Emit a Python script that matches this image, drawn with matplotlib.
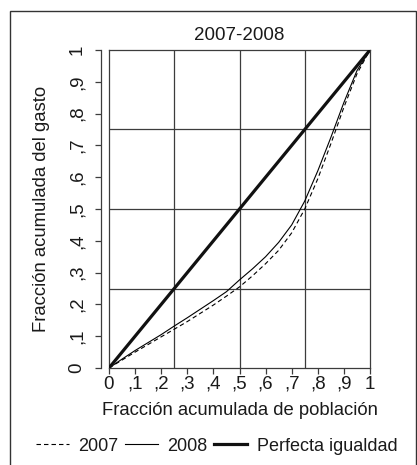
import matplotlib
matplotlib.use("Agg")
import matplotlib.pyplot as plt
from matplotlib.lines import Line2D
from matplotlib.patches import Rectangle

plt.rcParams['font.family'] = ['Liberation Sans', 'DejaVu Sans']
plt.rcParams['lines.scale_dashes'] = False

# Data
poblacion = [0, .05, .1, .15, .2, .25, .3, .35, .4, .45, .5, .55, .6, .65, .7,
             .75, .8, .85, .9, .95, 1]
gasto_2008 = [0, .028, .055, .08, .105, .132, .158, .185, .212, .24, .277, .312,
              .35, .395, .45, .525, .62, .725, .835, .935, 1]
gasto_2007 = [0, .025, .05, .074, .098, .122, .146, .172, .198, .226, .255, .29,
              .328, .37, .425, .50, .595, .705, .82, .925, 1]
igualdad_x = [0, 1]
igualdad_y = [0, 1]
ticks = [0, .1, .2, .3, .4, .5, .6, .7, .8, .9, 1]
tick_labels = ['0', ',1', ',2', ',3', ',4', ',5', ',6', ',7', ',8', ',9', '1']
grid_vals = [.25, .5, .75]

W, H = 417, 465
fig = plt.figure(figsize=(W / 100, H / 100), dpi=100)
fig.patch.set_facecolor('white')

# outer border
fig.add_artist(Rectangle((10 / W, -0.05), (416 - 10) / W, (H - 11) / H + 0.05,
                         transform=fig.transFigure, fill=False,
                         edgecolor='#333333', lw=1.0))

left, right, top, bottom = 109, 370, 50, 368
ax = fig.add_axes([left / W, 1 - bottom / H, (right - left) / W, (bottom - top) / H])

gc = '#3c3c3c'
tc = '#1a1a1a'
for g in grid_vals:
    ax.axvline(g, color=gc, lw=0.9, zorder=1)
    ax.axhline(g, color=gc, lw=0.9, zorder=1)
ax.axvline(0, color=gc, lw=0.9, zorder=1, clip_on=False)

ax.plot(poblacion, gasto_2007, color='black', lw=0.8, dashes=(3.2, 2.2), zorder=3)
ax.plot(poblacion, gasto_2008, color='black', lw=0.8, zorder=3)
ax.plot(igualdad_x, igualdad_y, color='#111111', lw=2.3, zorder=4, solid_capstyle='butt')

ax.set_xlim(0, 1)
ax.set_ylim(0, 1)
ax.set_xticks(ticks)
ax.set_xticklabels(tick_labels)
ax.set_yticks(ticks)
ax.set_yticklabels(tick_labels)

for s in ax.spines.values():
    s.set_color(gc)
    s.set_linewidth(0.9)
ax.spines['left'].set_position(('outward', 6))

ax.tick_params(axis='both', direction='out', length=4, width=0.9, color=gc,
               labelsize=13.5, labelcolor=tc)
ax.tick_params(axis='x', pad=1.5)
ax.tick_params(axis='y', pad=7, labelrotation=90)
for lab in ax.get_yticklabels():
    lab.set_va('center')

ax.set_title('2007-2008', fontsize=13.5, color=tc, pad=7)
ax.set_xlabel('Fracción acumulada de población', fontsize=13.3, color=tc, labelpad=7)
ax.set_ylabel('Fracción acumulada del gasto', fontsize=13.3, color=tc)
ax.yaxis.set_label_coords((50 - left) / (right - left), 0.5)

handles = [Line2D([], [], color='black', lw=0.8, dashes=(3.2, 2.2)),
           Line2D([], [], color='black', lw=0.8),
           Line2D([], [], color='#111111', lw=2.3)]
fig.legend(handles, ['2007', '2008', 'Perfecta igualdad'], ncol=3, frameon=False,
           loc='center', bbox_to_anchor=(216.5 / W, 1 - 446 / H), fontsize=13,
           handlelength=1.83, handletextpad=0.5, columnspacing=0.39,
           borderaxespad=0, borderpad=0, labelcolor=tc)

fig.savefig('out.png', dpi=100, facecolor='white')
